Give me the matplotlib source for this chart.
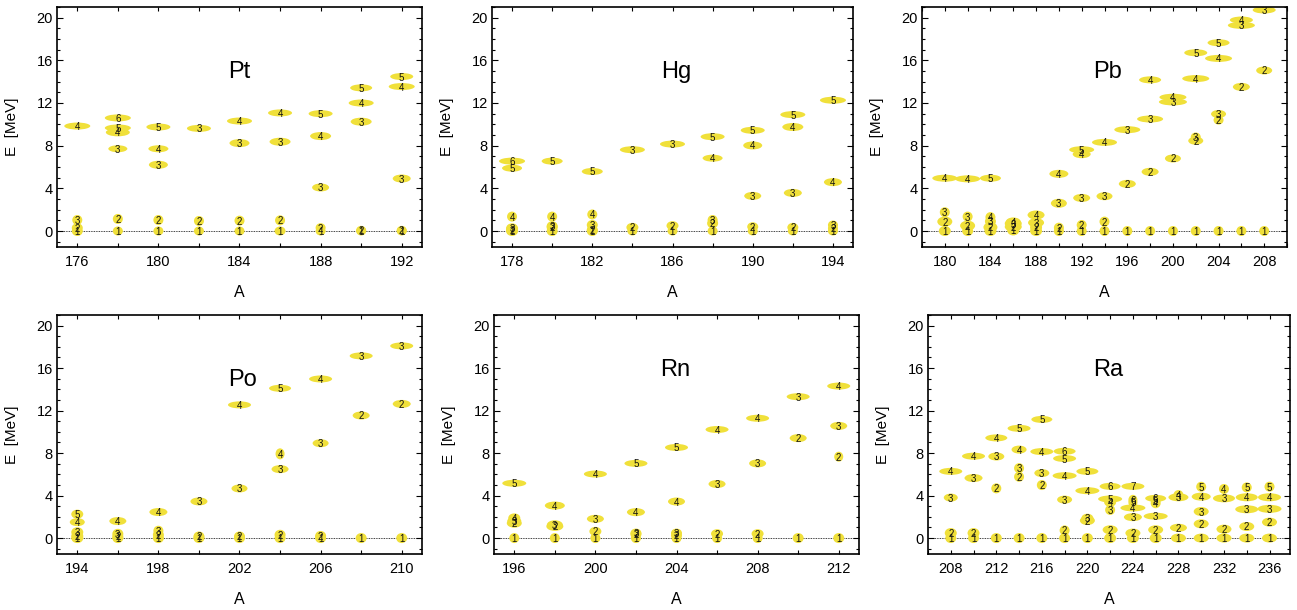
import numpy as np
import matplotlib
matplotlib.use("Agg")
import matplotlib.pyplot as plt
from matplotlib.collections import EllipseCollection
from matplotlib.ticker import FixedLocator, MultipleLocator

plt.rcParams['font.family'] = ['Liberation Sans', 'DejaVu Sans']

# ---- data: per nucleus, mass number A, energy E [MeV], state index n,
# ---- ellipse width / height (px)
pt_A = [176, 176, 176, 176,
        178, 178, 178, 178, 178, 178,
        180, 180, 180, 180, 180,
        182, 182, 182,
        184, 184, 184, 184,
        186, 186, 186, 186,
        188, 188, 188, 188, 188,
        190, 190, 190, 190, 190,
        192, 192, 192, 192, 192]
pt_E = [9.84, 1.03, 0.30, 0.00,
        10.60, 9.66, 9.25, 7.71, 1.13, 0.00,
        9.75, 7.71, 6.21, 1.03, 0.00,
        9.62, 0.94, 0.00,
        10.31, 8.24, 0.97, 0.00,
        11.07, 8.37, 1.00, 0.00,
        11.00, 8.90, 4.08, 0.31, 0.00,
        13.42, 12.00, 10.25, 0.06, 0.00,
        14.48, 13.54, 4.92, 0.06, 0.00]
pt_n = [4, 3, 2, 1,
        6, 5, 4, 3, 2, 1,
        5, 4, 3, 2, 1,
        3, 2, 1,
        4, 3, 2, 1,
        4, 3, 2, 1,
        5, 4, 3, 2, 1,
        5, 4, 3, 2, 1,
        5, 4, 3, 2, 1]
pt_w = [26, 10, 11, 11,
        26, 26, 24, 19, 10, 10,
        24, 20, 19, 10, 10,
        24, 10, 10,
        25, 20, 10, 10,
        24, 21, 10, 11,
        24, 21, 17, 10, 10,
        22, 25, 21, 10, 10,
        23, 26, 18, 10, 10]
pt_h = [7, 10, 9, 10,
        7, 7, 8, 7, 10, 9,
        7, 7, 8, 10, 9,
        7, 10, 9,
        7, 8, 10, 9,
        7, 8, 10, 9,
        7, 8, 8, 9, 9,
        7, 7, 8, 9, 9,
        7, 7, 8, 9, 9]

hg_A = [178, 178, 178, 178, 178, 178,
        180, 180, 180, 180, 180,
        182, 182, 182, 182, 182,
        184, 184, 184,
        186, 186, 186,
        188, 188, 188, 188, 188,
        190, 190, 190, 190, 190,
        192, 192, 192, 192, 192,
        194, 194, 194, 194, 194]
hg_E = [6.55, 5.89, 1.35, 0.25, 0.10, 0.00,
        6.55, 1.35, 0.45, 0.35, 0.00,
        5.58, 1.55, 0.56, 0.10, 0.00,
        7.62, 0.34, 0.00,
        8.15, 0.50, 0.00,
        8.84, 6.83, 1.03, 0.72, 0.00,
        9.44, 8.02, 3.29, 0.40, 0.00,
        10.91, 9.75, 3.57, 0.34, 0.00,
        12.26, 4.58, 0.56, 0.25, 0.00]
hg_n = [6, 5, 4, 3, 2, 1,
        5, 4, 3, 2, 1,
        5, 4, 3, 2, 1,
        3, 2, 1,
        3, 2, 1,
        5, 4, 3, 2, 1,
        5, 4, 3, 2, 1,
        5, 4, 3, 2, 1,
        5, 4, 3, 2, 1]
hg_w = [26, 20, 10, 12, 12, 12,
        21, 10, 11, 11, 11,
        21, 10, 11, 11, 11,
        25, 12, 10,
        25, 12, 10,
        24, 20, 10, 11, 10,
        24, 19, 17, 11, 10,
        25, 21, 18, 11, 10,
        26, 18, 10, 10, 10]
hg_h = [7, 7, 10, 10, 10, 10,
        7, 10, 10, 10, 10,
        7, 10, 10, 10, 10,
        7, 9, 9,
        7, 9, 9,
        7, 7, 10, 10, 9,
        7, 8, 8, 9, 9,
        7, 8, 8, 9, 9,
        7, 8, 9, 9, 9]

pb_A = [180, 180, 180, 180,
        182, 182, 182, 182,
        184, 184, 184, 184, 184,
        186, 186, 186, 186,
        188, 188, 188, 188,
        190, 190, 190, 190,
        192, 192, 192, 192, 192,
        194, 194, 194, 194,
        196, 196, 196,
        198, 198, 198, 198,
        200, 200, 200, 200,
        202, 202, 202, 202, 202,
        204, 204, 204, 204, 204,
        206, 206, 206, 206,
        208, 208, 208]
pb_E = [4.95, 1.76, 0.88, 0.00,
        4.89, 1.35, 0.50, 0.00,
        4.95, 1.30, 0.90, 0.35, 0.00,
        0.85, 0.70, 0.40, 0.05,
        1.50, 0.78, 0.34, 0.00,
        5.36, 2.60, 0.31, 0.00,
        7.62, 7.20, 3.10, 0.56, 0.00,
        8.31, 3.26, 0.88, 0.00,
        9.50, 4.42, 0.00,
        14.17, 10.50, 5.55, 0.00,
        12.54, 12.10, 6.80, 0.00,
        16.71, 14.29, 8.81, 8.46, 0.00,
        17.65, 16.18, 10.97, 10.40, 0.00,
        19.78, 19.28, 13.51, 0.00,
        20.72, 15.05, 0.00]
pb_n = [4, 3, 2, 1,
        4, 3, 2, 1,
        5, 4, 3, 2, 1,
        4, 3, 2, 1,
        4, 3, 2, 1,
        4, 3, 2, 1,
        5, 4, 3, 2, 1,
        4, 3, 2, 1,
        3, 2, 1,
        4, 3, 2, 1,
        4, 3, 2, 1,
        5, 4, 3, 2, 1,
        5, 4, 3, 2, 1,
        4, 3, 2, 1,
        3, 2, 1]
pb_w = [25, 10, 15, 12,
        25, 10, 15, 11,
        21, 10, 11, 14, 12,
        15, 17, 17, 12,
        17, 16, 12, 12,
        19, 16, 10, 10,
        25, 18, 17, 10, 10,
        25, 16, 10, 10,
        26, 17, 10,
        22, 26, 17, 10,
        27, 28, 16, 10,
        23, 27, 10, 15, 10,
        22, 27, 15, 10, 10,
        23, 27, 17, 10,
        23, 16, 10]
pb_h = [7, 10, 10, 10,
        7, 10, 10, 10,
        7, 10, 10, 10, 10,
        9, 10, 10, 10,
        9, 9, 10, 10,
        8, 9, 10, 10,
        7, 8, 8, 10, 10,
        7, 8, 10, 10,
        7, 8, 10,
        7, 7, 8, 10,
        7, 7, 8, 10,
        7, 7, 9, 8, 10,
        7, 7, 8, 9, 10,
        7, 7, 8, 10,
        7, 8, 10]

po_A = [194, 194, 194, 194, 194,
        196, 196, 196, 196,
        198, 198, 198, 198,
        200, 200, 200,
        202, 202, 202, 202,
        204, 204, 204, 204, 204,
        206, 206, 206, 206,
        208, 208, 208,
        210, 210, 210]
po_E = [2.25, 1.50, 0.55, 0.20, 0.00,
        1.60, 0.40, 0.15, 0.00,
        2.45, 0.69, 0.31, 0.00,
        3.45, 0.15, 0.00,
        12.54, 4.67, 0.15, 0.00,
        14.10, 7.93, 6.49, 0.31, 0.00,
        14.98, 8.93, 0.20, 0.00,
        17.15, 11.54, 0.00,
        18.09, 12.63, 0.00]
po_n = [5, 4, 3, 2, 1,
        4, 3, 2, 1,
        4, 3, 2, 1,
        3, 2, 1,
        4, 3, 2, 1,
        5, 4, 3, 2, 1,
        4, 3, 2, 1,
        3, 2, 1,
        3, 2, 1]
po_w = [12, 15, 12, 12, 12,
        17, 11, 11, 11,
        18, 10, 11, 11,
        17, 11, 11,
        23, 16, 11, 11,
        22, 9, 17, 11, 11,
        23, 16, 11, 11,
        23, 17, 11,
        23, 18, 11]
po_h = [9, 8, 10, 10, 10,
        8, 10, 10, 10,
        8, 10, 10, 10,
        8, 10, 10,
        7, 8, 10, 10,
        7, 11, 8, 10, 10,
        7, 8, 10, 10,
        7, 8, 10,
        7, 8, 10]

rn_A = [196, 196, 196, 196, 196,
        198, 198, 198, 198,
        200, 200, 200, 200,
        202, 202, 202, 202, 202,
        204, 204, 204, 204, 204,
        206, 206, 206, 206,
        208, 208, 208, 208,
        210, 210, 210,
        212, 212, 212, 212]
rn_E = [5.16, 1.90, 1.60, 1.40, 0.00,
        3.06, 1.25, 1.10, 0.00,
        6.03, 1.81, 0.63, 0.00,
        7.03, 2.44, 0.47, 0.35, 0.00,
        8.53, 3.44, 0.47, 0.25, 0.00,
        10.22, 5.09, 0.41, 0.00,
        11.28, 7.03, 0.41, 0.00,
        13.31, 9.41, 0.00,
        14.31, 10.56, 7.66, 0.00]
rn_n = [5, 4, 3, 2, 1,
        4, 3, 2, 1,
        4, 3, 2, 1,
        5, 4, 3, 2, 1,
        5, 4, 3, 2, 1,
        4, 3, 2, 1,
        4, 3, 2, 1,
        3, 2, 1,
        4, 3, 2, 1]
rn_w = [24, 12, 14, 15, 10,
        20, 16, 17, 10,
        23, 17, 12, 10,
        23, 18, 11, 11, 10,
        23, 17, 11, 11, 10,
        23, 17, 12, 10,
        23, 17, 12, 10,
        23, 17, 11,
        23, 17, 9, 11]
rn_h = [7, 9, 9, 9, 10,
        8, 9, 9, 10,
        7, 8, 9, 10,
        7, 8, 9, 9, 10,
        7, 8, 9, 9, 10,
        7, 8, 9, 10,
        7, 8, 9, 10,
        7, 8, 10,
        7, 8, 10, 10]

ra_A = [208, 208, 208, 208,
        210, 210, 210, 210,
        212, 212, 212, 212,
        214, 214, 214, 214, 214,
        216, 216, 216, 216, 216,
        218, 218, 218, 218, 218, 218,
        220, 220, 220, 220, 220,
        222, 222, 222, 222, 222, 222,
        224, 224, 224, 224, 224, 224, 224,
        226, 226, 226, 226, 226, 226,
        228, 228, 228, 228,
        230, 230, 230, 230, 230,
        232, 232, 232, 232,
        234, 234, 234, 234, 234,
        236, 236, 236, 236, 236]
ra_E = [6.28, 3.81, 0.47, 0.00,
        7.71, 5.65, 0.47, 0.00,
        9.43, 7.68, 4.68, 0.00,
        10.33, 8.33, 6.58, 5.77, 0.00,
        11.17, 8.14, 6.12, 4.99, 0.00,
        8.17, 7.49, 5.87, 3.62, 0.72, 0.00,
        6.28, 4.46, 1.87, 1.65, 0.00,
        4.87, 3.68, 3.37, 2.65, 0.78, 0.00,
        4.87, 3.60, 3.35, 2.84, 1.97, 0.47, 0.00,
        3.74, 3.55, 3.28, 2.06, 0.78, 0.00,
        4.05, 3.84, 0.97, 0.00,
        4.83, 3.90, 2.50, 1.34, 0.00,
        4.62, 3.74, 0.84, 0.00,
        4.77, 3.84, 2.71, 1.09, 0.00,
        4.84, 3.84, 2.75, 1.50, 0.00]
ra_n = [4, 3, 2, 1,
        4, 3, 2, 1,
        4, 3, 2, 1,
        5, 4, 3, 2, 1,
        5, 4, 3, 2, 1,
        6, 5, 4, 3, 2, 1,
        5, 4, 3, 2, 1,
        6, 5, 4, 3, 2, 1,
        7, 6, 5, 4, 3, 2, 1,
        6, 5, 4, 3, 2, 1,
        4, 3, 2, 1,
        5, 4, 3, 2, 1,
        4, 3, 2, 1,
        5, 4, 3, 2, 1,
        5, 4, 3, 2, 1]
ra_w = [23, 14, 12, 11,
        23, 18, 12, 11,
        22, 16, 10, 11,
        23, 15, 10, 10, 11,
        21, 23, 15, 10, 11,
        22, 23, 24, 15, 10, 11,
        22, 24, 12, 15, 11,
        21, 24, 12, 10, 15, 12,
        23, 9, 9, 25, 18, 15, 12,
        21, 10, 10, 24, 15, 12,
        10, 20, 17, 15,
        10, 19, 15, 15, 15,
        10, 22, 15, 15,
        10, 22, 23, 15, 15,
        10, 23, 24, 15, 15]
ra_h = [7, 8, 10, 10,
        7, 8, 10, 10,
        7, 8, 10, 10,
        7, 8, 10, 10, 10,
        7, 7, 8, 10, 10,
        7, 7, 7, 8, 10, 10,
        7, 7, 9, 9, 10,
        7, 7, 9, 10, 9, 10,
        7, 10, 10, 7, 8, 9, 10,
        7, 10, 10, 7, 9, 10,
        10, 8, 8, 9,
        10, 8, 9, 9, 9,
        10, 8, 9, 9,
        10, 8, 8, 9, 9,
        10, 8, 8, 9, 9]

names = ['Pt', 'Hg', 'Pb', 'Po', 'Rn', 'Ra']
panel_data = {
    'Pt': (pt_A, pt_E, pt_n, pt_w, pt_h),
    'Hg': (hg_A, hg_E, hg_n, hg_w, hg_h),
    'Pb': (pb_A, pb_E, pb_n, pb_w, pb_h),
    'Po': (po_A, po_E, po_n, po_w, po_h),
    'Rn': (rn_A, rn_E, rn_n, rn_w, rn_h),
    'Ra': (ra_A, ra_E, ra_n, ra_w, ra_h),
}
xlims = {'Pt': (175, 193), 'Hg': (177, 195), 'Pb': (178, 210),
         'Po': (193, 211), 'Rn': (195, 213), 'Ra': (206, 237.8)}
xticks = {'Pt': [176, 180, 184, 188, 192], 'Hg': [178, 182, 186, 190, 194],
          'Pb': [180, 184, 188, 192, 196, 200, 204, 208],
          'Po': [194, 198, 202, 206, 210], 'Rn': [196, 200, 204, 208, 212],
          'Ra': [208, 212, 216, 220, 224, 228, 232, 236]}
yticks = [0, 4, 8, 12, 16, 20]

# layout in pixels: left, top, right, bottom
W, H = 1297, 610
boxes = {'Pt': (57, 7, 422, 247), 'Hg': (492, 7, 853, 247), 'Pb': (922, 7, 1287, 247),
         'Po': (57, 315, 422, 554), 'Rn': (494, 315, 859, 554), 'Ra': (928, 315, 1290, 554)}
name_pos = {'Pt': (0.50, 0.73), 'Hg': (0.51, 0.73), 'Pb': (0.507, 0.73),
            'Po': (0.507, 0.73), 'Rn': (0.496, 0.77), 'Ra': (0.497, 0.77)}

YELLOW = '#f0e03a'
px2pt = 72.0 / 100

fig = plt.figure(figsize=(W / 100, H / 100), dpi=100)

for name in names:
    l, t, r, b = boxes[name]
    ax = fig.add_axes([l / W, 1 - b / H, (r - l) / W, (b - t) / H])
    A, E, n, w, h = panel_data[name]

    ax.axhline(0, color='k', lw=0.6, ls=(0, (1, 1)), zorder=1)

    ec = EllipseCollection(np.array(w) * px2pt, np.array(h) * px2pt,
                           np.zeros(len(w)), units='points',
                           offsets=np.column_stack([A, E]),
                           offset_transform=ax.transData,
                           facecolors=YELLOW, edgecolors='none', zorder=2)
    ax.add_collection(ec, autolim=False)
    for a, e, k in zip(A, E, n):
        ax.text(a, e, str(k), ha='center', va='center_baseline',
                fontsize=7, color='#111111', zorder=3, clip_on=True)

    ax.set_xlim(*xlims[name])
    ax.set_ylim(-1.5, 21)
    ax.xaxis.set_major_locator(FixedLocator(xticks[name]))
    ax.xaxis.set_minor_locator(MultipleLocator(2))
    ax.yaxis.set_major_locator(FixedLocator(yticks))
    ax.yaxis.set_minor_locator(MultipleLocator(1))
    ax.tick_params(axis='both', which='both', direction='in', top=True, right=True,
                   width=0.8, labelsize=10.5)
    ax.tick_params(axis='x', which='both', length=3, pad=6)
    ax.tick_params(axis='y', which='major', length=4.3, pad=3)
    ax.tick_params(axis='y', which='minor', length=2)
    for s in ax.spines.values():
        s.set_linewidth(1.2)

    ax.set_xlabel('A', fontsize=11.5)
    ax.xaxis.set_label_coords(0.5, -0.158)
    ax.set_ylabel('E  [MeV]', fontsize=11)
    ax.yaxis.set_label_coords(-38 / (r - l), 0.5)

    ax.text(*name_pos[name], name, transform=ax.transAxes, ha='center',
            va='center', fontsize=17)

fig.savefig('out.png', dpi=100)
